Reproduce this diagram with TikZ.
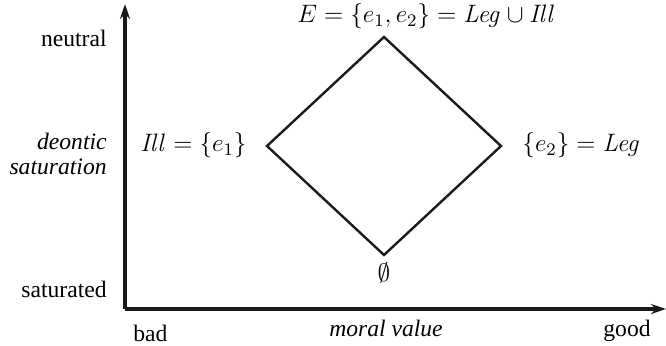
\RequirePackage{fix-cm}
\documentclass[tikz,border=0pt,12pt]{standalone}
\usepackage{amsmath}
\usepackage[no-math]{fontspec}
\setmainfont{Liberation Serif}[Ligatures=TeX]
\usepackage{tikz}
\usetikzlibrary{arrows.meta,positioning}
\definecolor{cAxis}{HTML}{1A1A1A}

\begin{document}
\begin{tikzpicture}[x=0.5pt,y=-0.5pt,font=\rmfamily\fontsize{11.8}{14}\selectfont,
    axis/.style={cAxis,line width=1.8pt,-{Stealth[length=7.5pt,width=5pt]}},
    lattice/.style={cAxis,line width=1.2pt,line join=miter},
    tick/.style={anchor=base east,inner sep=0pt},
    setlbl/.style={inner sep=0pt,font=\fontsize{12.6}{15}\selectfont}]
  \useasboundingbox (0,0) rectangle (666,346);
  % axes
  \coordinate (origin) at (125,309);
  \coordinate (ytop) at (125,4);
  \coordinate (xend) at (666,309);
  \draw[axis] (origin) -- (ytop);
  \draw[axis] (origin) -- (xend);
  \node[tick] (neutral) at (107,47) {neutral};
  \node[tick,font=\rmfamily\fontsize{11.8}{14}\selectfont\itshape] (deon) at (107,150) {deontic};
  \node[tick,font=\rmfamily\fontsize{11.8}{14}\selectfont\itshape] (deon2) at (107,175) {saturation};
  \node[tick] (sat) at (107,298) {saturated};
  \node[inner sep=0pt,anchor=base west] (bad) at (133,342) {bad};
  \node[inner sep=0pt,anchor=base,font=\rmfamily\fontsize{11.8}{14}\selectfont\itshape] (moral) at (386,337) {moral value};
  \node[inner sep=0pt,anchor=base west] (good) at (603,337) {good};
  % lattice of deontic sets
  \coordinate (top) at (384,37);
  \coordinate (lft) at (267,146);
  \coordinate (rgt) at (501,146);
  \coordinate (bot) at (384,255);
  \draw[lattice] (top) -- (lft) -- (bot) -- (rgt) -- cycle;
  \node[setlbl,anchor=base west] (E) at (297,23) {$E=\{e_1,e_2\}=\mathit{Leg}\cup \mathit{Ill}$};
  \node[setlbl,anchor=base east] (ill) at (247,152) {$\mathit{Ill}=\{e_1\}$};
  \node[setlbl,anchor=base west] (leg) at (522,152) {$\{e_2\}=\mathit{Leg}$};
  \node[setlbl,anchor=north] (empty) at (384,262) {$\emptyset$};
\end{tikzpicture}
\end{document}
